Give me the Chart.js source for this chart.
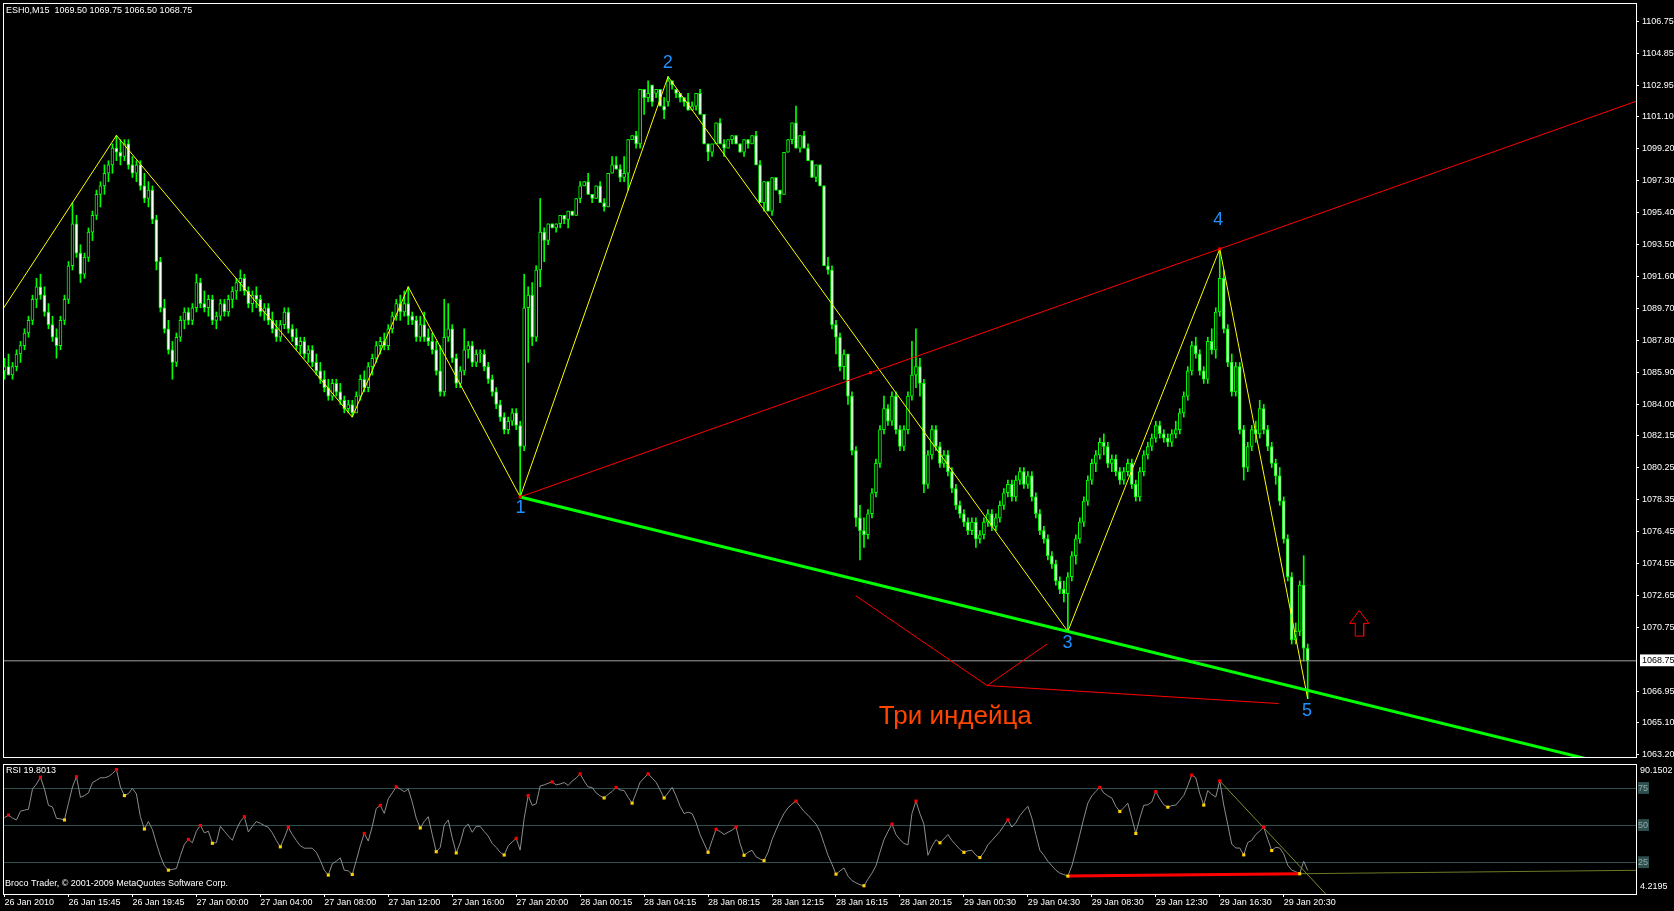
<!DOCTYPE html>
<html>
<head>
<meta charset="utf-8">
<script src="https://cdn.jsdelivr.net/npm/chart.js"></script>
<style>
  html, body { margin: 0; padding: 0; background: #000; overflow: hidden; }
  #wrap { position: relative; width: 1674px; height: 911px; }
  canvas { position: absolute; left: 0; }
  #main { top: 0; }
  #rsi { top: 761px; }
</style>
</head>
<body>
<div id="wrap">
  <canvas id="main" width="1674" height="761"></canvas>
  <canvas id="rsi" width="1674" height="150"></canvas>
</div>
<script>
// ESH0 M15 candles, bar 0 = 26 Jan 2010
const opens = [
  1086,1086.25,1085.75,1086.25,1087,1087.5,1088.25,1089,1090.25,1091,
  1090.5,1089.5,1088.75,1088,1087.5,1089,1090.25,1092.25,1094.75,1093,
  1091.75,1092.75,1094.25,1095.25,1096.5,1097,1097.75,1098.25,1099.25,1099,
  1098.75,1099.5,1098.25,1097.75,1098.25,1097,1096.25,1096.75,1095,1092.5,
  1089.75,1088.5,1087.25,1086.5,1088,1089,1089.5,1089,1089.75,1091.25,
  1090,1089.75,1090.25,1089,1089.25,1090,1089.5,1090.25,1090.75,1091.25,
  1091.5,1090.75,1090,1090.5,1090.25,1089.5,1089.75,1089,1088.5,1088,
  1088.75,1089.5,1088.5,1088,1087.5,1087.75,1087,1087.25,1086.5,1086,
  1085.5,1085,1084.5,1085.25,1084.75,1084.25,1083.75,1084,1083.5,1084.5,
  1085.5,1085,1086.25,1086.75,1087.5,1087.75,1087.5,1088.5,1089.25,1090,
  1089.5,1090,1089.25,1089,1088,1088.75,1088,1087.75,1087.25,1086,
  1084.75,1088,1088.5,1086.75,1085.25,1086,1087.25,1087.5,1086.5,1087,
  1087,1086.25,1085.5,1084.75,1084,1083.25,1082.5,1083,1083.5,1082.75,
  1081.5,1089.75,1090.5,1088,1092,1094.25,1093.75,1094.75,1094.5,1094.75,
  1095.25,1095,1095.5,1095.25,1096.25,1097,1097.25,1096.5,1096.25,1097,
  1096,1095.75,1097.75,1098.25,1098,1097.5,1097.75,1099.75,1100,1099.5,
  1102.75,1102.25,1103,1102.5,1102.75,1101.75,1102,1103.25,1102.75,1102.5,
  1102.25,1102,1101.5,1101.75,1102.5,1101.25,1099.5,1099,1099.5,1100.75,
  1099.5,1099.25,1099.75,1100,1099.5,1099,1099.75,1099.5,1100,1098.25,
  1096,1097.25,1095.5,1097.5,1096.75,1096.5,1099,1099.75,1100.75,1099.25,
  1100,1099.25,1098.5,1097.5,1098.25,1097,1092.25,1092,1088.75,1088,
  1086.25,1087,1084.5,1081.25,1077.25,1076.5,1076.25,1077.5,1078.75,1080.5,
  1082.5,1083.75,1083,1084.5,1082.5,1081.5,1082.5,1084.5,1085.75,1086.25,
  1085.25,1079.25,1081,1082.5,1081.5,1080.5,1081,1080,1079,1078,
  1077.5,1077,1076.5,1077,1076,1076.25,1077,1077.5,1076.75,1077.25,
  1078,1078.75,1079.25,1078.5,1079.5,1080,1079.25,1079.75,1078.5,1077.5,
  1076.5,1076,1075,1074.5,1073.5,1073,1072.75,1073.75,1075,1076,
  1077,1078.25,1079.5,1080.5,1081,1081.75,1081.5,1080.5,1080.75,1080,
  1079.5,1080,1080.5,1079.25,1078.5,1080,1081,1081.5,1082,1082.75,
  1082.25,1082,1081.75,1082.25,1082.5,1083.5,1084.5,1086,1087.5,1087,
  1086,1085.5,1087.75,1087.25,1089.5,1091.5,1088.5,1086.5,1084.75,1086.25,
  1082.5,1080.25,1081.5,1082.5,1082.25,1083.75,1082.5,1081.5,1080.5,1079.75,
  1078.25,1076,1073.75,1070,1070.5,1073.25,1069.5
];
const highs = [
  1086.75,1087,1086.5,1087.25,1087.75,1088.5,1089.25,1090.5,1091.5,1091.75,
  1091,1090,1089.25,1088.5,1089.25,1090.5,1092.5,1096,1095.25,1093.5,
  1093,1094.5,1095.5,1096.75,1097.25,1098.25,1098.5,1099.5,1100,1099.75,
  1099.75,1099.75,1098.75,1098.5,1098.5,1097.75,1097.25,1097,1095.25,1092.75,
  1090.25,1089,1087.75,1088.25,1089.25,1089.75,1089.75,1090,1091.75,1091.5,
  1090.75,1090.5,1090.5,1089.5,1090.25,1090.25,1090.5,1091,1091.5,1092,
  1091.75,1091,1090.75,1091,1090.5,1090,1090,1089.5,1089,1089,
  1089.75,1089.75,1088.75,1088.5,1088,1088,1087.5,1087.5,1087,1086.5,
  1086,1085.5,1085.5,1085.5,1085.25,1084.5,1084.25,1084.25,1084.75,1085.75,
  1086,1086.5,1087,1087.75,1088,1088.25,1088.75,1089.5,1090.25,1090.5,
  1090.75,1091,1089.5,1089.25,1089.25,1089.5,1088.5,1088.25,1087.75,1087.5,
  1090.25,1090,1088.75,1087,1086.25,1088.5,1087.75,1087.75,1087.25,1087.25,
  1087.25,1086.5,1085.75,1085,1084.25,1083.5,1083.25,1083.75,1083.75,1083,
  1091.75,1091,1091.25,1092.25,1096.25,1094.5,1094.75,1094.75,1094.75,1095.25,
  1095.25,1095.5,1095.5,1096.25,1097.25,1097.25,1097.75,1096.5,1097,1097.25,
  1096.25,1097.75,1098.75,1098.75,1098.25,1098.75,1099.75,1100,1100.25,1102.75,
  1102.75,1103.25,1103,1102.75,1102.75,1102.25,1103.5,1103.25,1102.75,1102.5,
  1102.25,1102.5,1102,1102.5,1102.75,1101.25,1099.5,1099.5,1100.75,1101,
  1099.75,1099.75,1100,1100,1099.5,1099.75,1099.75,1100,1100.25,1098.5,
  1097.25,1097.25,1097.5,1097.5,1096.75,1099,1099.75,1100.75,1101.75,1100,
  1100.25,1099.5,1098.5,1098.25,1098.25,1097,1092.75,1092.25,1089,1088.25,
  1087.25,1087,1084.75,1081.5,1078,1077.25,1077.75,1079,1080.75,1082.75,
  1084.5,1084,1084.75,1084.75,1082.75,1082.75,1084.75,1087.75,1088.5,1086.75,
  1085.5,1081.25,1082.75,1082.75,1081.75,1081.25,1081.25,1080.25,1079.25,1078.25,
  1077.75,1077.25,1077.25,1077.25,1076.5,1077.25,1077.75,1077.75,1077.5,1078.25,
  1079,1079.5,1079.5,1079.75,1080.25,1080.25,1080,1080,1078.75,1077.75,
  1076.75,1076.25,1075.25,1074.75,1073.75,1073.5,1074,1075.25,1076.25,1077.25,
  1078.5,1079.75,1080.75,1081.25,1082,1082.25,1081.75,1081,1081,1080.25,
  1080.25,1080.75,1080.75,1079.5,1080.25,1081.25,1081.75,1082.25,1083,1083,
  1082.5,1082.25,1082.5,1083,1083.75,1084.75,1086.25,1087.75,1088,1087.25,
  1086.25,1088,1088.5,1089.75,1093.25,1092,1088.75,1087,1086.5,1086.5,
  1082.75,1081.75,1082.75,1083,1084.25,1084,1082.75,1081.75,1080.75,1080.25,
  1078.5,1076.25,1074,1071,1073.5,1075,1069.75
];
const lows = [
  1085.5,1085.75,1085.5,1086,1086.5,1087.25,1088,1088.75,1089.75,1090.25,
  1089.25,1088.5,1087.75,1086.75,1087.25,1088.75,1090,1092,1092.75,1091.25,
  1091.5,1092.5,1093.75,1095,1095.75,1096.5,1097.25,1097.75,1098.5,1098.25,
  1098.5,1098,1097.5,1097.25,1096.75,1096,1095.75,1094.75,1092,1089.5,
  1088.25,1087,1085.5,1086.25,1087.75,1088.5,1088.75,1088.75,1089.5,1089.75,
  1089.5,1089.25,1088.75,1088.5,1089,1089.25,1089.25,1089.75,1090.25,1090.75,
  1090.5,1089.75,1089.5,1089.75,1089.25,1089,1088.75,1088.25,1087.75,1087.75,
  1088.5,1088.25,1087.75,1087.25,1087,1086.75,1086.5,1086.25,1085.75,1085.25,
  1084.75,1084.25,1084.25,1084.5,1084,1083.5,1083.5,1083.25,1083.5,1084.25,
  1084.75,1084.75,1085.75,1086.5,1087,1087.25,1087.25,1088.25,1089,1089,
  1089.25,1088.75,1088.75,1087.75,1087.75,1087.75,1087.5,1087,1085.75,1084.5,
  1084.5,1087.75,1086.5,1085,1085,1085.75,1086.75,1086.25,1086.25,1086.5,
  1086,1085.25,1084.5,1083.75,1083,1082.25,1082.25,1082.75,1082.5,1078.5,
  1081.25,1086.5,1087.5,1087.75,1091,1092.5,1093.5,1094.5,1094.25,1094.5,
  1094.75,1094.5,1095.25,1095.25,1096,1097,1096.5,1096,1096.25,1096,
  1095.5,1095.75,1097.75,1098,1097.25,1097.25,1096.75,1099.75,1099.25,1099.25,
  1101.25,1102,1101.75,1102.25,1101.75,1101,1101.75,1102.75,1102.25,1102,
  1101.75,1101.5,1101.5,1101.5,1101.25,1099.5,1098.5,1098.75,1099.5,1099.5,
  1098.75,1099.25,1099.5,1099.5,1099,1098.75,1099.25,1099.5,1098.25,1096,
  1095.5,1095.5,1095.25,1096.75,1096,1096.5,1099,1099.5,1099.25,1099,
  1099.25,1098.5,1097.5,1097.25,1097,1092.25,1091.75,1088.5,1087,1086,
  1085.5,1084,1081,1076.75,1074.75,1075.5,1076,1077.25,1078.5,1080.25,
  1082.25,1082.75,1082.75,1082.25,1081.25,1081.25,1082.25,1084.25,1085,1084.5,
  1078.75,1079,1080.75,1081.25,1080.25,1080.25,1079.75,1078.75,1077.75,1077.25,
  1076.75,1076.25,1076.25,1075.5,1075.75,1076,1076.75,1076.5,1076.5,1077,
  1077.75,1078.5,1078.25,1078.25,1079.25,1079,1079,1078.25,1077.25,1076.25,
  1075.75,1074.75,1074.25,1073.25,1072.75,1072.25,1070.5,1073.5,1074.5,1075.75,
  1076.75,1078,1079.25,1080,1080.75,1081,1080.25,1080,1079.75,1079.25,
  1079.25,1079.75,1079,1078.25,1078.25,1079.75,1080.75,1081.25,1081.75,1082,
  1081.75,1081.5,1081.5,1082,1082.25,1083.25,1084.25,1085.75,1086.75,1085.75,
  1085.25,1085.25,1087,1086.75,1089.25,1088.25,1086.25,1084.5,1084.5,1082.25,
  1079.5,1080,1081.25,1081.75,1082,1082.25,1081.25,1080.25,1079.25,1078,
  1075.75,1073.5,1069.75,1069.75,1070.25,1068.75,1066.5
];
const closes = [
  1086.25,1085.75,1086.25,1087,1087.5,1088.25,1089,1090.25,1091,1090.5,
  1089.5,1088.75,1088,1087.5,1089,1090.25,1092.25,1094.75,1093,1091.75,
  1092.75,1094.25,1095.25,1096.5,1097,1097.75,1098.25,1099.25,1099,1098.75,
  1099.5,1098.25,1097.75,1098.25,1097,1096.25,1096.75,1095,1092.5,1089.75,
  1088.5,1087.25,1086.5,1088,1089,1089.5,1089,1089.75,1091.25,1090,
  1089.75,1090.25,1089,1089.25,1090,1089.5,1090.25,1090.75,1091.25,1091.5,
  1090.75,1090,1090.5,1090.25,1089.5,1089.75,1089,1088.5,1088,1088.75,
  1089.5,1088.5,1088,1087.5,1087.75,1087,1087.25,1086.5,1086,1085.5,
  1085,1084.5,1085.25,1084.75,1084.25,1083.75,1084,1083.5,1084.5,1085.5,
  1085,1086.25,1086.75,1087.5,1087.75,1087.5,1088.5,1089.25,1090,1089.5,
  1090,1089.25,1089,1088,1088.75,1088,1087.75,1087.25,1086,1084.75,
  1088,1088.5,1086.75,1085.25,1086,1087.25,1087.5,1086.5,1087,1087,
  1086.25,1085.5,1084.75,1084,1083.25,1082.5,1083,1083.5,1082.75,1081.5,
  1089.75,1090.5,1088,1092,1094.25,1093.75,1094.75,1094.5,1094.75,1095.25,
  1095,1095.5,1095.25,1096.25,1097,1097.25,1096.5,1096.25,1097,1096,
  1095.75,1097.75,1098.25,1098,1097.5,1097.75,1099.75,1100,1099.5,1102.75,
  1102.25,1102.5,1102,1102.75,1101.75,1101.5,1103.25,1103,1102.5,1102.25,
  1102,1101.5,1101.75,1102.5,1101.25,1099.5,1099,1099.5,1100.75,1099.5,
  1099.25,1099.75,1100,1099.5,1099,1099.75,1099.5,1100,1098.25,1096,
  1097.25,1095.5,1097.5,1096.75,1096.5,1099,1099.75,1100.75,1099.25,1100,
  1099.25,1098.5,1097.5,1098.25,1097,1092.25,1092,1088.75,1088,1086.25,
  1087,1084.5,1081.25,1077.25,1076.5,1076.25,1077.5,1078.75,1080.5,1082.5,
  1083.75,1083,1084.5,1082.5,1081.5,1082.5,1084.5,1085.75,1086.25,1085.25,
  1079.25,1081,1082.5,1081.5,1080.5,1081,1080,1079,1078,1077.5,
  1077,1076.5,1077,1076,1076.25,1077,1077.5,1076.75,1077.25,1078,
  1078.75,1079.25,1078.5,1079.5,1080,1079.25,1079.75,1078.5,1077.5,1076.5,
  1076,1075,1074.5,1073.5,1073,1072.75,1073.75,1075,1076,1077,
  1078.25,1079.5,1080.5,1081,1081.75,1081.5,1080.5,1080.75,1080,1079.5,
  1080,1080.5,1079.25,1078.5,1080,1081,1081.5,1082,1082.75,1082.25,
  1082,1081.75,1082.25,1082.5,1083.5,1084.5,1086,1087.5,1087,1086,
  1085.5,1087.75,1087.25,1089.5,1091.5,1088.5,1086.5,1084.75,1086.25,1082.5,
  1080.25,1081.5,1082.5,1082.25,1083.75,1082.5,1081.5,1080.5,1079.75,1078.25,
  1076,1073.75,1070,1070.5,1073.25,1069.5,1068.75
];

// RSI sub-window
const rsiValues = [
  55.3,57.1,55,53.8,59.7,60.4,61,74.6,78,82.6,
  74.6,63.6,62.6,54.9,54.5,53.8,65,76,82.9,69,
  70.2,72,78.9,80.5,82.2,82.2,83,85,87.7,76,
  70.2,71.5,75,71.3,56,47.7,52.7,47.3,38,29.5,
  23,20,20.5,21.1,29.8,37.4,40.7,38.5,46.2,50.1,
  45.1,46.2,38.1,38.5,49.5,46.2,43,40.1,47.3,52.7,
  56,45.7,49.5,52.7,51.6,50,48.8,45.1,40,35.7,
  41.8,48.8,44,40,36.4,34.8,34.8,34.8,32,26.5,
  20,16.7,24.3,26,28.3,20,19.5,17.1,26.5,36.4,
  44.7,39.6,49.5,61.5,63.6,58.2,68,72,76.1,74.6,
  72.8,74.6,65.8,55,48.4,52.7,56,44,32.4,35.3,
  50.5,53.8,41.8,31.6,38.5,48.4,51,45.5,49.5,49.5,
  46,42.9,38,35.3,32,30.2,36.4,39,41.4,33.5,
  54.9,70.2,63.6,64.7,76.7,77.4,78.5,79.4,77.4,78,
  79,77,80,82,84.8,80,76,75.7,72,70,
  68.6,71,73,75.7,74,73.6,69,65.1,72,79.2,
  82,84.8,82,79.2,74,68.6,72,75.7,70,63,
  58.1,59,58.1,52,44,38,32,40,47.5,46,
  44,45.5,47,49,38,30,32,33.4,29,27.5,
  26.4,32,40.5,47,53,58.1,62,64.5,66.5,63,
  59.5,57,54,51,46,38,30,24,17.3,19.5,
  21.5,16,13,11.5,10.2,9.5,14,18,22.9,32,
  40.5,46,51,44,40.5,38,37,58.1,66.5,58,
  51,30,36,40.5,38.4,41,44,40,37,34,
  32,33,33.4,30,28.5,32,37,40,43,46,
  50,53.9,49,52,56.7,60,63,55,44,33.4,
  30,26,22.9,20,18,17,16,22.9,33,44,
  55,65.1,70,73,75.7,72,70,68.6,63,59.5,
  62,65.1,55,44.7,55,63.7,64,65.9,72.9,68,
  64,62.4,63.5,63.8,67,70.3,76.8,84,82.3,71.4,
  63.8,73.6,71,69.2,80.1,63.8,50.7,37.6,34.9,34.9,
  30.3,38.6,40,44,46.3,48.9,40.8,33.2,35.4,34.9,
  31,23.4,20,19,17.6,26,19.8013
];
const rsiRedMarks = [1,9,18,28,46,49,60,71,90,94,98,128,131,137,144,153,161,178,183,198,222,228,251,274,288,297,304,315];
const rsiYellowMarks = [15,30,35,41,52,69,81,87,104,108,113,125,150,157,165,176,185,190,208,215,234,240,244,266,279,283,291,300,310,317,324];
const rsiLevels = [25, 50, 75];
const rsiTopLabel = '90.1502';
const rsiBottomLabel = '4.2195';

// axis labels
const timeTickBars = [0,16,32,48,64,80,96,112,128,144,160,176,192,208,224,240,256,272,288,304,320];
const timeLabels = ['26 Jan 2010','26 Jan 15:45','26 Jan 19:45','27 Jan 00:00','27 Jan 04:00','27 Jan 08:00',
  '27 Jan 12:00','27 Jan 16:00','27 Jan 20:00','28 Jan 00:15','28 Jan 04:15','28 Jan 08:15','28 Jan 12:15',
  '28 Jan 16:15','28 Jan 20:15','29 Jan 00:30','29 Jan 04:30','29 Jan 08:30','29 Jan 12:30','29 Jan 16:30','29 Jan 20:30'];
const priceTicks = [1106.75,1104.85,1102.95,1101.10,1099.20,1097.30,1095.40,1093.50,1091.60,1089.70,1087.80,1085.90,
  1084.00,1082.15,1080.25,1078.35,1076.45,1074.55,1072.65,1070.75,1066.95,1065.10,1063.20];

// drawn objects, [bar, price]
const zigzag = [[-0.875,1089.5],[28,1100],[87,1083.25],[101,1091],[129,1078.5],[166,1103.5],[266,1070.5],[304,1093.25],[326,1066.5]];
const redTrend = [[129,1078.5],[408.125,1102.03]];
const redTrendDots = [[129,1078.5],[216.65,1085.89],[304,1093.25]];
const greenTrend = [[129,1078.5],[408.125,1062.2]];
const indiansA = [[212.9,1072.63],[245.8,1067.28],[260.8,1069.75]];
const indiansB = [[245.8,1067.28],[318.7,1066.21]];
const arrowOutline = [[338.9,1071.74],[341.3,1070.98],[340,1070.98],[340,1070.22],[337.9,1070.22],[337.9,1070.98],[336.5,1070.98],[338.9,1071.74]];
const waveNames = ['1','2','3','4','5'];
const wavePos = [[129.1,1077.84],[165.9,1104.32],[265.9,1069.8],[303.65,1094.96],[325.8,1065.74]];
const noteText = 'Три индейца';
const notePos = [218.7, 1064.98];
// RSI objects, [bar, rsi]
const rsiTrendRed = [[266,16],[324,17.6]];
const rsiTrendExt = [[324,17.6],[408.125,19.9]];
const rsiTrendDown = [[304,80.1],[330.5,4]];

// ---------------------------------------------------------------
Chart.defaults.font.family = '"Liberation Sans", Arial, sans-serif';
Chart.defaults.font.size = 9;
Chart.defaults.color = '#fff';

const last = closes.length - 1;
const lastClose = closes[last];
const xMin = -0.125, xMax = 408.125;
const pts = arr => arr.map(([x, y]) => ({ x, y }));
const f2 = v => v.toFixed(2);
const font9 = { family: '"Liberation Sans", Arial, sans-serif', size: 9 };

const lineSet = (data, color, width, order) => ({
  type: 'line', data: pts(data), borderColor: color, borderWidth: width,
  pointRadius: 0, fill: false, tension: 0, clip: 0, order
});
const markSet = (data, color, order) => ({
  type: 'line', data: pts(data), showLine: false, pointStyle: 'rect', pointRadius: 2.2,
  pointBackgroundColor: color, pointBorderWidth: 0, clip: 0, order
});

// keep the plot box where MT4 has it: no extra room for end labels
const flushY = s => { s.width = 38; s.paddingTop = 0; s.paddingBottom = 0; };

const frame = {
  id: 'frame',
  afterDraw(chart) {
    const { ctx, chartArea: a } = chart;
    ctx.save();
    ctx.strokeStyle = '#fff';
    ctx.lineWidth = 1;
    ctx.strokeRect(a.left - 0.5, a.top - 0.5, a.right - a.left + 1, a.bottom - a.top + 1);
    ctx.restore();
  }
};

const mainText = {
  id: 'mainText',
  afterDatasetsDraw(chart) {
    const { ctx, scales: { x, y } } = chart;
    ctx.save();
    ctx.font = '9px "Liberation Sans"';
    ctx.fillStyle = '#fff';
    ctx.textAlign = 'left';
    ctx.textBaseline = 'middle';
    ctx.fillText(`ESH0,M15  ${f2(opens[last])} ${f2(highs[last])} ${f2(lows[last])} ${f2(closes[last])}`, 6, 11);
    ctx.font = '18px "Liberation Sans"';
    ctx.fillStyle = '#1E90FF';
    ctx.textAlign = 'center';
    waveNames.forEach((t, i) => ctx.fillText(t, x.getPixelForValue(wavePos[i][0]), y.getPixelForValue(wavePos[i][1])));
    ctx.font = '26px "Liberation Sans"';
    ctx.fillStyle = '#FF4500';
    ctx.textAlign = 'left';
    ctx.textBaseline = 'alphabetic';
    ctx.fillText(noteText, x.getPixelForValue(notePos[0]), y.getPixelForValue(notePos[1]));
    ctx.restore();
  }
};

new Chart(document.getElementById('main'), {
  type: 'bar',
  data: {
    datasets: [
      {
        label: 'wicks', data: lows.map((l, i) => ({ x: i, y: [l, highs[i]] })),
        backgroundColor: '#00FF00', borderWidth: 0, barThickness: 1, grouped: false, minBarLength: 1, order: 9
      },
      {
        label: 'bodies', data: opens.map((o, i) => ({ x: i, y: [o, closes[i]] })),
        backgroundColor: closes.map((c, i) => (c >= opens[i] ? '#000' : '#fff')),
        borderColor: '#00FF00', borderWidth: 1, borderSkipped: false,
        barThickness: 3, grouped: false, minBarLength: 1, order: 8
      },
      lineSet([[xMin, lastClose], [xMax, lastClose]], '#A0A0A0', 1, 7),
      lineSet(zigzag, '#FFFF00', 1, 4),
      lineSet(redTrend, '#FF0000', 1, 3),
      lineSet(greenTrend, '#00FF00', 3, 2),
      lineSet(indiansA, '#FF0000', 1, 3),
      lineSet(indiansB, '#FF0000', 1, 3),
      lineSet(arrowOutline, '#FF0000', 1, 3),
      markSet(redTrendDots, '#FF0000', 0)
    ]
  },
  options: {
    responsive: false, animation: false, devicePixelRatio: 1, events: [],
    layout: { padding: { left: 3, top: 3, right: 0, bottom: 2 } },
    plugins: { legend: { display: false }, tooltip: { enabled: false } },
    scales: {
      x: { type: 'linear', min: xMin, max: xMax, offset: false, display: false, grid: { offset: false } },
      y: {
        position: 'right', min: 1063.03, max: 1107.82, beginAtZero: false,
        afterFit: flushY,
        afterBuildTicks(s) { s.ticks = priceTicks.concat([lastClose]).map(v => ({ value: v })); },
        border: { display: false },
        grid: {
          drawOnChartArea: false, drawTicks: true, tickLength: 3,
          color: c => (c.tick && c.tick.value === lastClose ? 'rgba(0,0,0,0)' : '#fff')
        },
        ticks: {
          font: font9, padding: 3, autoSkip: false,
          color: c => (c.tick && c.tick.value === lastClose ? '#000' : '#fff'),
          showLabelBackdrop: c => !!(c.tick && c.tick.value === lastClose),
          backdropColor: '#fff',
          backdropPadding: { left: 2, right: 6, top: 1, bottom: 0 },
          callback: v => f2(v)
        }
      }
    }
  },
  plugins: [frame, mainText]
});

const rsiText = {
  id: 'rsiText',
  afterDatasetsDraw(chart) {
    const { ctx, chartArea: a } = chart;
    ctx.save();
    ctx.font = '9px "Liberation Sans"';
    ctx.fillStyle = '#fff';
    ctx.textAlign = 'left';
    ctx.textBaseline = 'middle';
    ctx.fillText(`RSI ${rsiValues[last].toFixed(4)}`, 6, 10);
    ctx.fillText('Broco Trader, © 2001-2009 MetaQuotes Software Corp.', 5, 123);
    ctx.fillText(rsiTopLabel, a.right + 4, a.top + 6);
    ctx.fillText(rsiBottomLabel, a.right + 4, a.bottom - 7);
    ctx.restore();
  }
};

new Chart(document.getElementById('rsi'), {
  type: 'bar',
  data: {
    datasets: [
      lineSet(rsiValues.map((v, i) => [i, v]), '#8C8C8C', 1, 5),
      lineSet(rsiTrendRed, '#FF0000', 3, 3),
      lineSet(rsiTrendExt, '#6B7A26', 1, 4),
      lineSet(rsiTrendDown, '#7E8C2E', 1, 4),
      markSet(rsiRedMarks.map(i => [i, rsiValues[i]]), '#FF0000', 1),
      markSet(rsiYellowMarks.map(i => [i, rsiValues[i]]), '#FFD200', 0)
    ]
  },
  options: {
    responsive: false, animation: false, devicePixelRatio: 1, events: [],
    layout: { padding: { left: 3, top: 1, right: 0, bottom: 0 } },
    plugins: { legend: { display: false }, tooltip: { enabled: false } },
    scales: {
      x: {
        type: 'linear', min: xMin, max: xMax, offset: false,
        afterBuildTicks(s) { s.ticks = timeTickBars.map(v => ({ value: v })); },
        afterFit(s) { s.height = 17; s.paddingLeft = 0; s.paddingRight = 0; },
        border: { display: false },
        grid: { offset: false, drawOnChartArea: false, drawTicks: true, tickLength: 3, color: '#fff' },
        ticks: {
          font: font9, color: '#fff', align: 'start', maxRotation: 0, minRotation: 0,
          autoSkip: false, padding: 0, callback: (v, i) => timeLabels[i]
        }
      },
      y: {
        position: 'right', min: 3.95, max: 90.79, beginAtZero: false,
        afterFit: flushY,
        afterBuildTicks(s) { s.ticks = rsiLevels.map(v => ({ value: v })); },
        border: { display: false },
        grid: { color: '#2F4F4F', drawOnChartArea: true, drawTicks: false },
        ticks: {
          font: font9, color: '#90A8A8', padding: 2, autoSkip: false,
          showLabelBackdrop: true, backdropColor: '#2F4F4F',
          backdropPadding: { left: 0, right: 1, top: 1, bottom: 0 },
          callback: v => String(v)
        }
      }
    }
  },
  plugins: [frame, rsiText]
});
</script>
</body>
</html>
